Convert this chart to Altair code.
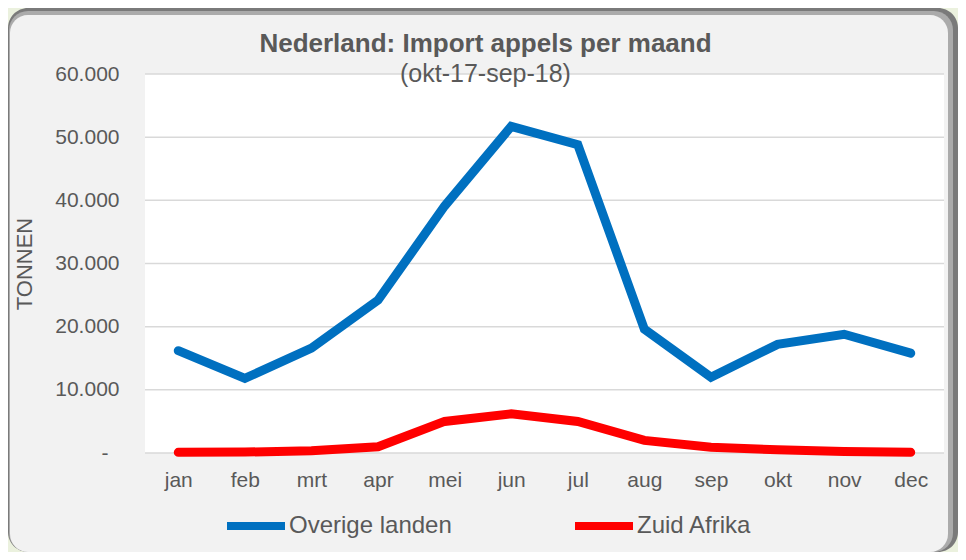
import altair as alt
import pandas as pd

months = ["jan", "feb", "mrt", "apr", "mei", "jun", "jul", "aug", "sep", "okt", "nov", "dec"]
overige_landen = [16200, 11800, 16600, 24200, 39100, 51700, 48800, 19600, 12000, 17200, 18800, 15800]
zuid_afrika = [100, 150, 350, 1000, 5000, 6200, 5000, 2000, 900, 500, 250, 100]
series_names = ["Overige landen", "Zuid Afrika"]
series_colors = ["#0070C0", "#FF0000"]
y_ticks = [0, 10000, 20000, 30000, 40000, 50000, 60000]

FONT = "Liberation Sans"
TXT = "#595959"

rows = []
for m, v in zip(months, overige_landen):
    rows.append({"maand": m, "serie": series_names[0], "tonnen": v})
for m, v in zip(months, zuid_afrika):
    rows.append({"maand": m, "serie": series_names[1], "tonnen": v})
df = pd.DataFrame(rows)
grid_df = pd.DataFrame({"tonnen": y_ticks})
one = pd.DataFrame({"k": [0]})

W, H = 799, 379
PAD = {"left": 137, "top": 66, "right": 14, "bottom": 99}

y_scale = alt.Scale(domain=[0, 60000], nice=False)


def y_axis():
    return alt.Axis(values=y_ticks, title="TONNEN", titleFontSize=22, titleFontWeight="normal",
                    titleFont=FONT, titleColor=TXT, titleX=-109, titleY=189.5,
                    labelExpr="datum.value == 0 ? '-' : replace(format(datum.value, ',.0f'), ',', '.')",
                    labelFontSize=21, labelFont=FONT, labelColor=TXT,
                    labelPadding={"condition": {"test": "datum.value == 0", "value": 37}, "value": 26},
                    ticks=False, domain=False, grid=False, zindex=1)


# decorative panel (rounded frame with shadow)
outer = alt.Chart(one).mark_rect(cornerRadius=20, fill="#7a7a7a").encode(
    x=alt.value(-137), x2=alt.value(813), y=alt.value(-66), y2=alt.value(478))
mid = alt.Chart(one).mark_rect(cornerRadius=19, fill="#ababab").encode(
    x=alt.value(-136), x2=alt.value(808), y=alt.value(-63), y2=alt.value(478))
inner = alt.Chart(one).mark_rect(cornerRadius=18, fill="#f2f2f2").encode(
    x=alt.value(-135), x2=alt.value(803), y=alt.value(-59), y2=alt.value(478))
plot_bg = alt.Chart(one).mark_rect(fill="#ffffff").encode(
    x=alt.value(0), x2=alt.value("width"), y=alt.value(0), y2=alt.value("height"))

grid = alt.Chart(grid_df).mark_rule(color="#d9d9d9", strokeWidth=1.5).encode(
    y=alt.Y("tonnen:Q", scale=y_scale, axis=y_axis()),
    x=alt.value(0), x2=alt.value("width"))

lines = alt.Chart(df).mark_line(strokeWidth=9, strokeCap="round", strokeJoin="miter").encode(
    x=alt.X("maand:O", sort=months, title=None,
            axis=alt.Axis(labelAngle=0, labelFontSize=21, labelFont=FONT, labelColor=TXT,
                          labelPadding=16, ticks=False, domain=False, grid=False, zindex=1)),
    y=alt.Y("tonnen:Q", scale=y_scale, axis=y_axis()),
    color=alt.Color("serie:N", title=None,
                    scale=alt.Scale(domain=series_names, range=series_colors),
                    legend=alt.Legend(orient="none", legendX=78, legendY=419, direction="horizontal",
                                      symbolType="stroke", symbolSize=3364, symbolStrokeWidth=8,
                                      labelFontSize=24, labelFont=FONT, labelColor=TXT,
                                      labelLimit=400, labelOffset=0, columnPadding=107, padding=0)),
    order=alt.Order("serie:N"),
)

chart = alt.layer(outer, mid, inner, plot_bg, grid, lines).properties(
    width=W, height=H,
    padding=PAD,
    autosize=alt.AutoSizeParams(type="none"),
    background="#ebf1de",
    title=alt.TitleParams(
        text="Nederland: Import appels per maand",
        subtitle="(okt-17-sep-18)",
        anchor="middle", frame="group", dx=-59, offset=-79,
        font=FONT, fontSize=26, fontWeight="bold", color=TXT,
        subtitleFont=FONT, subtitleFontSize=25, subtitleColor=TXT, subtitlePadding=5,
    ),
).configure_view(strokeWidth=0)

chart.save("out.html", embed_options={"renderer": "svg", "actions": False})
